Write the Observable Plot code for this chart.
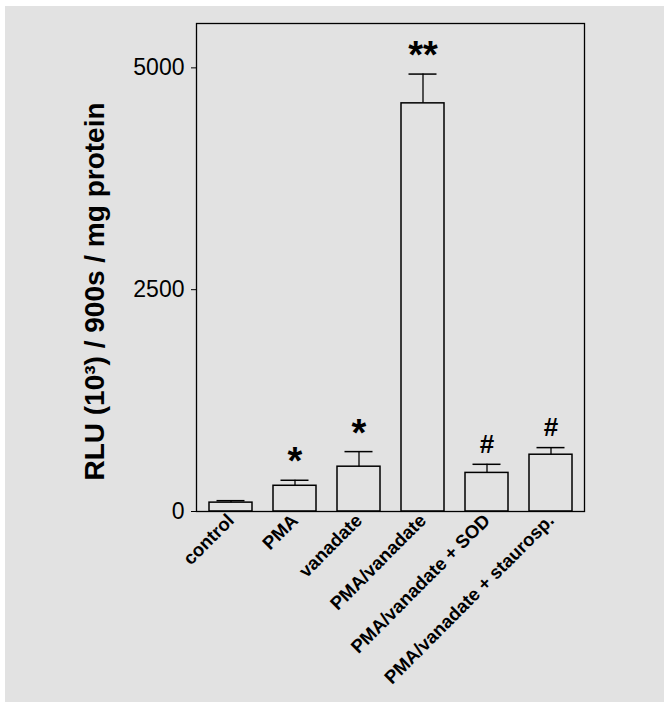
<!DOCTYPE html>
<html>
<head>
<meta charset="utf-8">
<script src="https://cdn.jsdelivr.net/npm/d3@7"></script>
<script src="https://cdn.jsdelivr.net/npm/@observablehq/plot@0.6"></script>
<style>
  html, body { margin: 0; padding: 0; background: #ffffff; }
  #panel { position: absolute; left: 5px; top: 6px; width: 659px; height: 696px; background: #e2e2e2; }
</style>
</head>
<body>
<div id="panel"></div>
<script>
const categories = ["control", "PMA", "vanadate", "PMA/vanadate", "PMA/vanadate + SOD", "PMA/vanadate + staurosp."];
const means = [100, 290, 505, 4600, 435, 640];
const errors = [22, 62, 170, 330, 97, 80];
const marks = ["", "*", "*", "**", "#", "#"];
const yTicks = [0, 2500, 5000];
const yLabel = "RLU (10\u00B3) / 900s / mg protein";

const data = categories.map((c, i) => ({cat: c, mean: means[i], err: errors[i], hi: means[i] + errors[i], sig: marks[i]}));

const chart = Plot.plot({
  width: 659,
  height: 696,
  marginLeft: 191,
  marginRight: 80,
  marginTop: 17,
  marginBottom: 191,
  style: {background: "transparent", fontFamily: "'Liberation Sans', Arial, sans-serif", color: "black"},
  x: {domain: categories, paddingInner: 0.335, paddingOuter: 0.1675, label: null},
  y: {domain: [0, 5500], label: null},
  marks: [
    Plot.barY(data, {x: "cat", y: "mean", fill: "none", stroke: "black", strokeWidth: 1.5}),
    Plot.ruleX(data, {x: "cat", y1: "mean", y2: "hi", stroke: "black", strokeWidth: 1.3}),
    Plot.tickY(data, {x: "cat", y: "hi", insetLeft: 7.5, insetRight: 7.5, stroke: "black", strokeWidth: 1.5}),
    Plot.text(data.filter(d => d.sig.startsWith("*")), {x: "cat", y: "hi", text: "sig", dy: -18, fontSize: 38, fontWeight: "bold", fill: "black"}),
    Plot.text(data.filter(d => d.sig === "#"), {x: "cat", y: "hi", text: "sig", dy: -20, fontSize: 26, fontWeight: "bold", fill: "black"}),
    Plot.frame({stroke: "black", strokeWidth: 1.3}),
    Plot.axisY({ticks: yTicks, tickSize: 5, tickPadding: 7, fontSize: 23, label: null, tickFormat: d => String(d)}),
    Plot.text([yLabel], {frameAnchor: "left", textAnchor: "middle", rotate: -90, dx: -101, dy: 24, fontSize: 28, fontWeight: "bold", fill: "black"}),
    Plot.axisX({tickSize: 0, tickRotate: -45, tickPadding: 6, fontSize: 18.5, fontWeight: "bold", label: null})
  ]
});
document.getElementById("panel").appendChild(chart);
</script>
</body>
</html>
